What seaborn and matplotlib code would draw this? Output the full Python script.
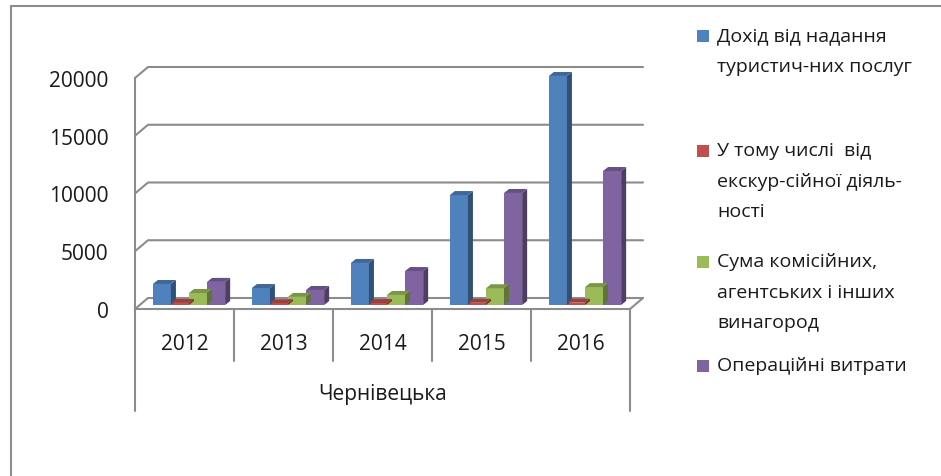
import numpy as np
import pandas as pd
import matplotlib
matplotlib.use("Agg")
import matplotlib.pyplot as plt
import matplotlib.colors as mcolors
from matplotlib.patches import Polygon, Rectangle
from matplotlib.lines import Line2D
import seaborn as sns

# дані (оцінка з рисунка)
years = ["2012", "2013", "2014", "2015", "2016"]
series = [
    "Дохід від надання\nтуристич-них послуг",
    "У тому числі  від\nекскур-сійної діяль-\nності",
    "Сума комісійних,\nагентських і інших\nвинагород",
    "Операційні витрати",
]
dohid = [1820, 1470, 3640, 9520, 19830]
ekskursii = [180, 160, 170, 190, 200]
komisiini = [1040, 700, 870, 1450, 1550]
vytraty = [2000, 1300, 2940, 9700, 11600]
region = "Чернівецька"
colors = ["#4F81BD", "#C0504D", "#9BBB59", "#8064A2"]
yticks = [0, 5000, 10000, 15000, 20000]

W, H, DPI = 941, 477, 100
GRAY = "#8C8C8C"

sns.set_style("white")
plt.rcParams["font.family"] = ["Open Sans", "DejaVu Sans"]

df = pd.DataFrame({
    "year": years * 4,
    "value": dohid + ekskursii + komisiini + vytraty,
    "series": sum([[s] * len(years) for s in series], []),
})

fig = plt.figure(figsize=(W / DPI, H / DPI), dpi=DPI)
# передня площина осей у пікселях: x 135..630, y 79..310
ax = fig.add_axes([135 / W, (H - 310) / H, 495 / W, 231 / H])

sns.barplot(data=df, x="year", y="value", hue="series", order=years,
            hue_order=series, palette=colors, saturation=1, width=0.73,
            legend=False, ax=ax, zorder=3)
ax.set_xlim(-0.5, 4.5)
ax.set_ylim(0, 20000)

# перерахунок пікселів у одиниці даних
xpp = 5 / 495
ypp = 20000 / 231

def off(x, y, px, py):
    return (x + px * xpp, y + py * ypp)

# задня стінка: сітка з діагоналями
wall_dx, wall_dy = 13, 11
for v in yticks:
    p0 = (-0.5, v)
    p1 = off(-0.5, v, wall_dx, wall_dy)
    p2 = off(4.5, v, wall_dx, wall_dy)
    ax.add_line(Line2D([p0[0], p1[0], p2[0]], [p0[1], p1[1], p2[1]],
                       color=GRAY, lw=1.5, clip_on=False, zorder=1))
# права діагональ підлоги
p3 = off(4.5, 0, wall_dx, wall_dy)
ax.add_line(Line2D([4.5, p3[0]], [0, p3[1]], color=GRAY, lw=1.5,
                   clip_on=False, zorder=1))

# псевдо-3D для стовпців
bx, by = 4.5, 4   # зсув стовпців вглиб
dx, dy = 5, 4     # глибина граней
for bar in list(ax.patches):
    x0 = bar.get_x() + bx * xpp
    w = bar.get_width()
    h = bar.get_height()
    y0 = by * ypp
    fc = np.array(mcolors.to_rgb(bar.get_facecolor()))
    bar.set_x(x0)
    bar.set_y(y0)
    bar.set_edgecolor("none")
    bar.set_clip_on(False)
    side = [(x0 + w, y0), off(x0 + w, y0, dx, dy), off(x0 + w, y0 + h, dx, dy), (x0 + w, y0 + h)]
    top = [(x0, y0 + h), (x0 + w, y0 + h), off(x0 + w, y0 + h, dx, dy), off(x0, y0 + h, dx, dy)]
    ax.add_patch(Polygon(side, closed=True, facecolor=fc * 0.62, edgecolor="none",
                         clip_on=False, zorder=3))
    ax.add_patch(Polygon(top, closed=True, facecolor=fc * 0.8, edgecolor="none",
                         clip_on=False, zorder=3))

# осі
for s in ["top", "right"]:
    ax.spines[s].set_visible(False)
for s in ["left", "bottom"]:
    ax.spines[s].set_color(GRAY)
    ax.spines[s].set_linewidth(1.5)
    ax.spines[s].set_zorder(4)
ax.set_yticks(yticks)
ax.set_yticklabels([str(v) for v in yticks], fontsize=15, color="#1a1a1a")
ax.tick_params(axis="y", length=5, width=1.5, color=GRAY, pad=14)
ax.tick_params(axis="x", length=0, pad=17, labelsize=15, labelcolor="#1a1a1a")
ax.set_xlabel("")
ax.set_ylabel("")
ax.grid(False)

# розділювачі категорій
xt = ax.get_xaxis_transform()
for i, xb in enumerate(np.arange(-0.5, 5, 1.0)):
    bottom = -102 / 231 if i in (0, 5) else -52 / 231
    ax.add_line(Line2D([xb, xb], [0, bottom], transform=xt, color=GRAY,
                       lw=1.5, clip_on=False))
ax.text(2, -85 / 231, region, transform=xt, ha="center", va="center",
        fontsize=15, color="#1a1a1a")

# легенда
legend_y = [37, 152, 263, 367]
for lab, col, yl in zip(series, colors, legend_y):
    fig.add_artist(Rectangle((697 / W, (H - yl - 6) / H), 12 / W, 12 / H,
                             transform=fig.transFigure, facecolor=col,
                             edgecolor="none"))
    fig.text(717 / W, (H - yl + 10) / H, lab, ha="left", va="top",
             fontsize=14, color="#1a1a1a", linespacing=1.9)

# рамка
fig.add_artist(Line2D([10.5 / W, 10.5 / W], [0, (H - 7) / H], color=GRAY,
                      lw=1.5, transform=fig.transFigure))
fig.add_artist(Line2D([10.5 / W, 1], [(H - 7) / H, (H - 7) / H], color=GRAY,
                      lw=1.5, transform=fig.transFigure))

fig.savefig("out.png", dpi=DPI)
